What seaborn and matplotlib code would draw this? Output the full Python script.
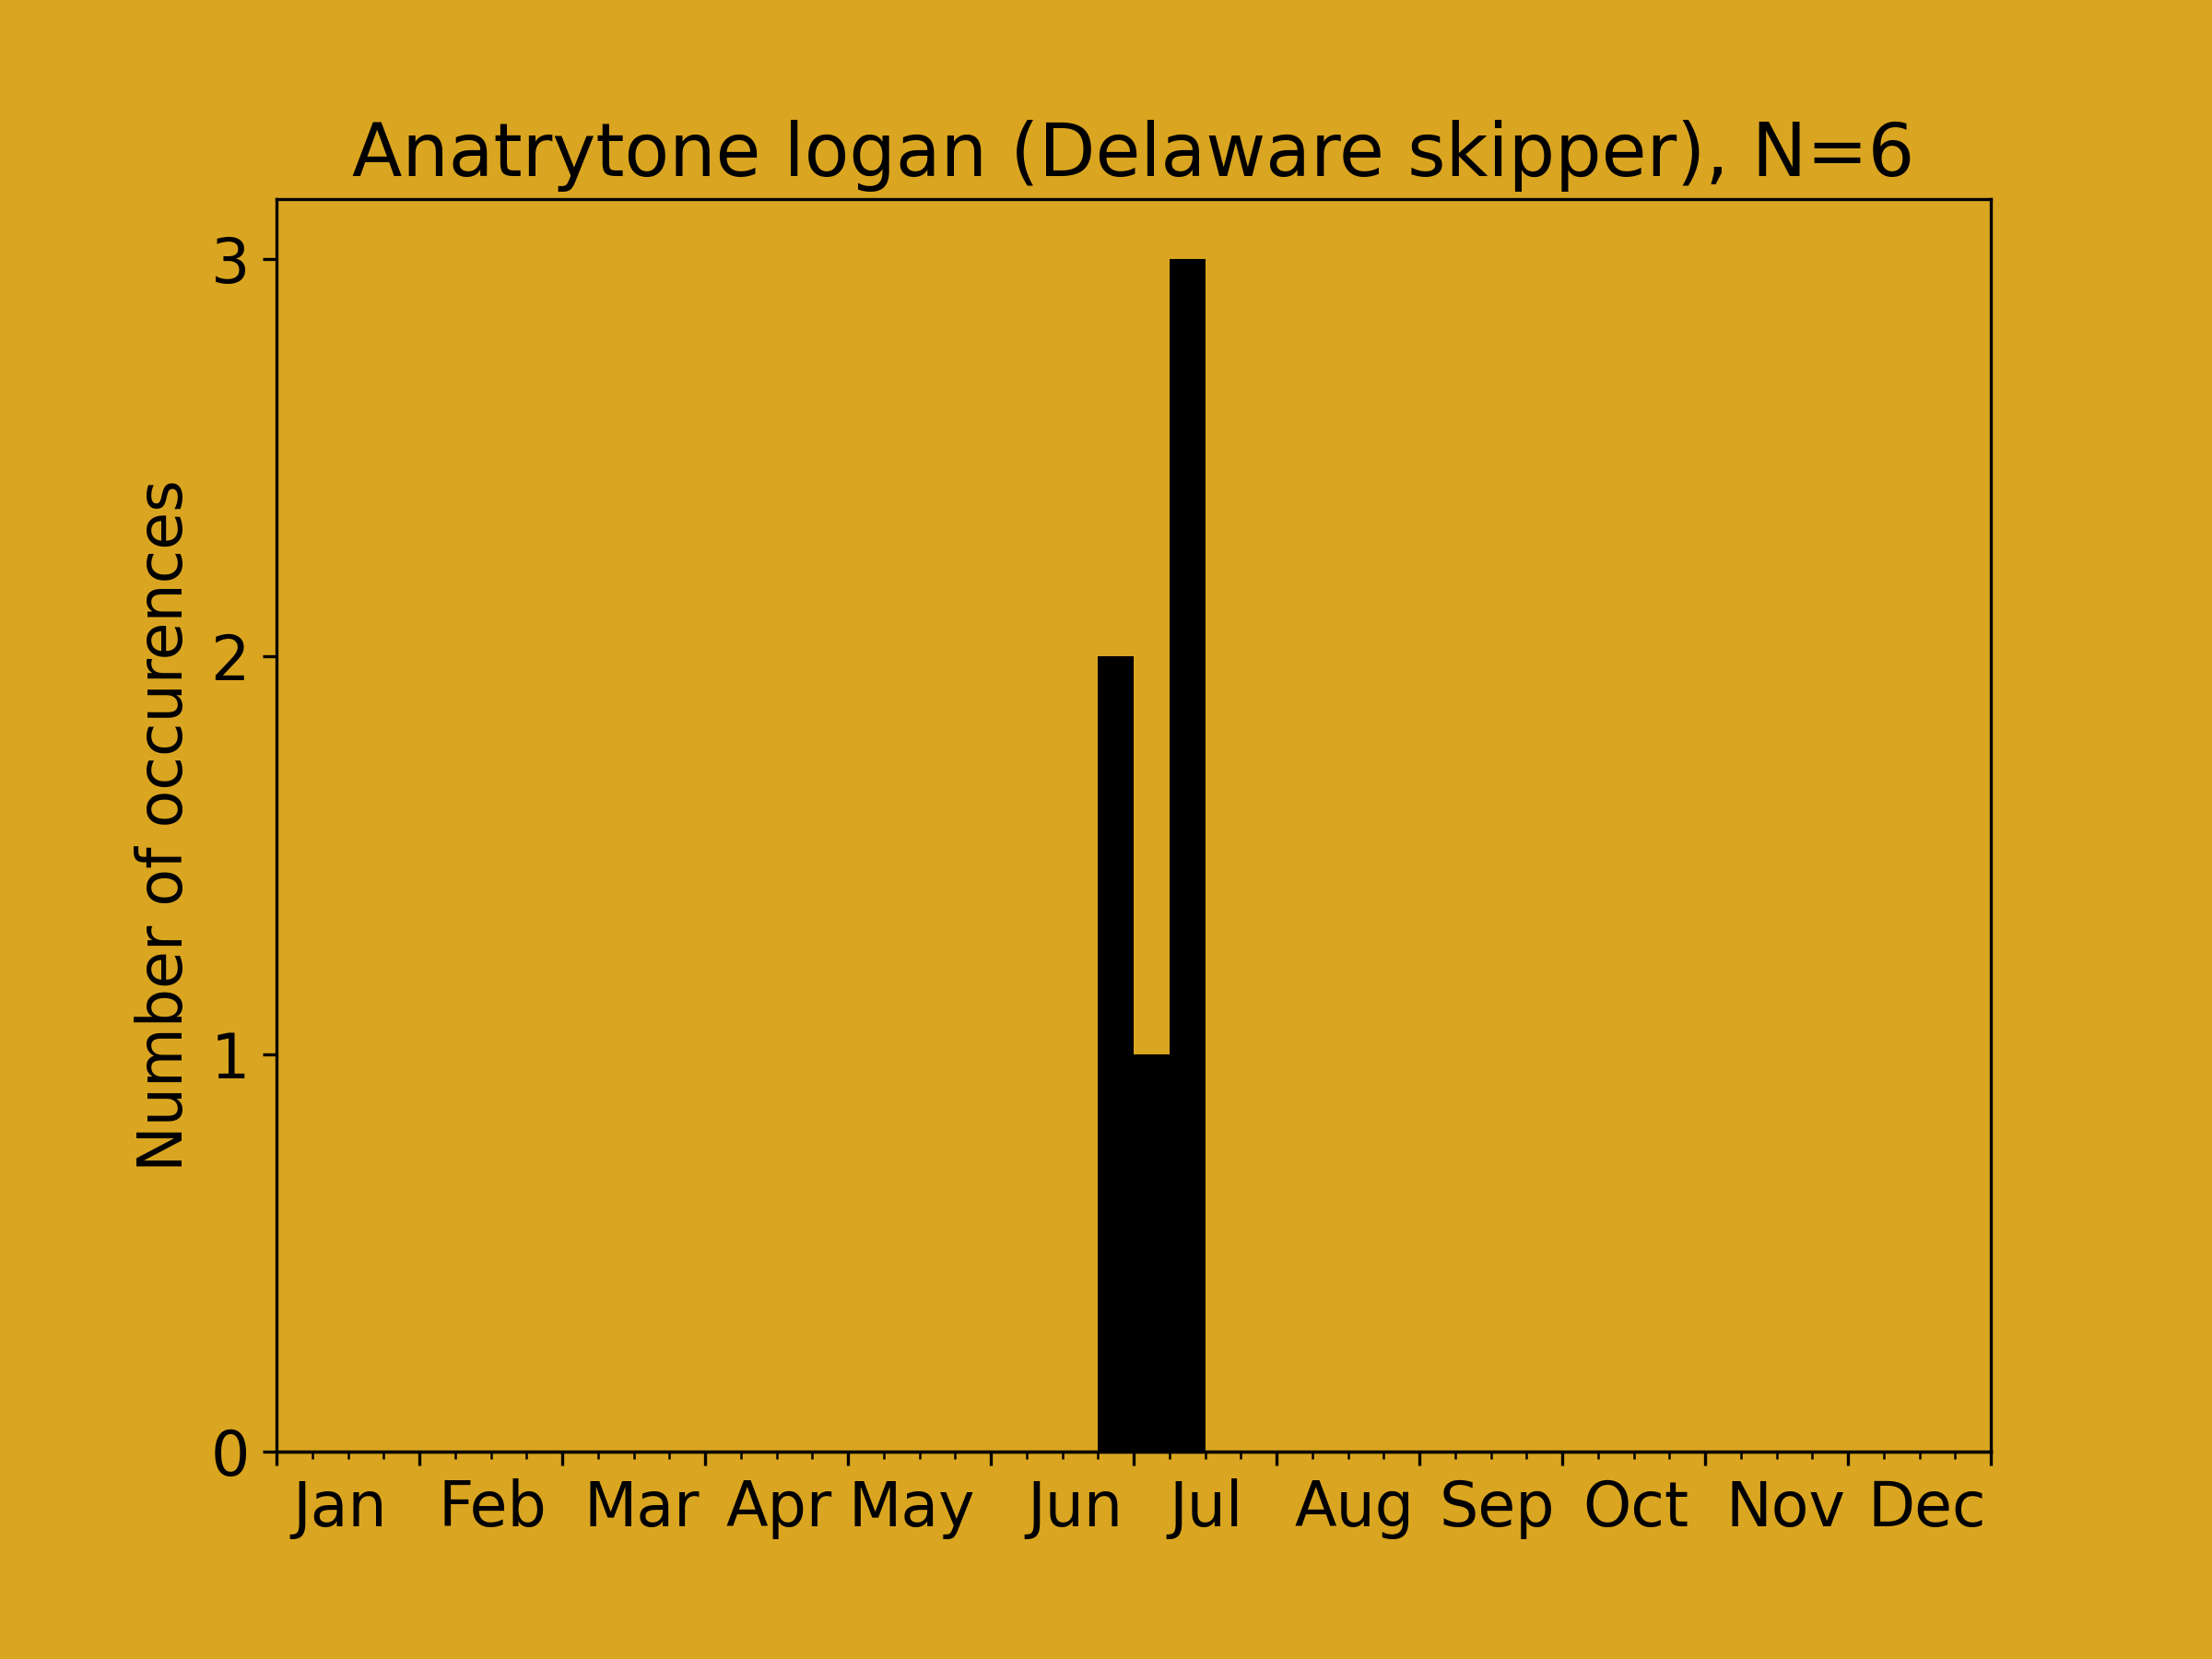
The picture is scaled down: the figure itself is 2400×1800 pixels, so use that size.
import numpy as np
import matplotlib
matplotlib.use('Agg')
import matplotlib.pyplot as plt
import seaborn as sns

# Observations as week-of-year bin index (4 bins per month, 48 in total)
obs_week = [23, 23, 24, 25, 25, 25]
months = ['Jan', 'Feb', 'Mar', 'Apr', 'May', 'Jun',
          'Jul', 'Aug', 'Sep', 'Oct', 'Nov', 'Dec']
# where each month name sits on the bin axis
month_label_pos = [1.78, 6.06, 10.22, 14.06, 17.78, 22.35,
                   26.04, 30.19, 34.17, 38.06, 42.25, 46.22]
n_bins = 48
title = 'Anatrytone logan (Delaware skipper), N=6'

bg = '#DAA520'

fig = plt.figure(figsize=(8, 6), dpi=300, facecolor=bg)
ax = fig.add_axes([0.125, 0.125, 0.775, 0.755])
ax.set_facecolor(bg)

edges = np.arange(n_bins + 1)
sns.histplot(x=np.array(obs_week) + 0.5, bins=edges, color='black',
             alpha=1, linewidth=0, ax=ax)

ax.set_xlim(0, n_bins)
ax.set_ylim(0, 3.15)

# month names as tickless major ticks, every bin edge as a short minor tick
ax.set_xticks(month_label_pos)
ax.set_xticklabels(months, fontsize=16)
ax.tick_params(axis='x', which='major', length=0, pad=7)
ax.set_xticks(edges, minor=True)
ax.tick_params(axis='x', which='minor', length=2)

# longer ticks on the month boundaries
sec = ax.secondary_xaxis('bottom')
sec.set_xticks(edges[::4])
sec.set_xticklabels([])
sec.tick_params(axis='x', length=3.5)

ax.set_yticks([0, 1, 2, 3])
ax.tick_params(axis='y', labelsize=16)

ax.set_xlabel('')
ax.set_ylabel('Number of occurences', fontsize=16)
ax.set_title(title, fontsize=19.1)

plt.savefig('out.png', dpi=300, facecolor=bg)
